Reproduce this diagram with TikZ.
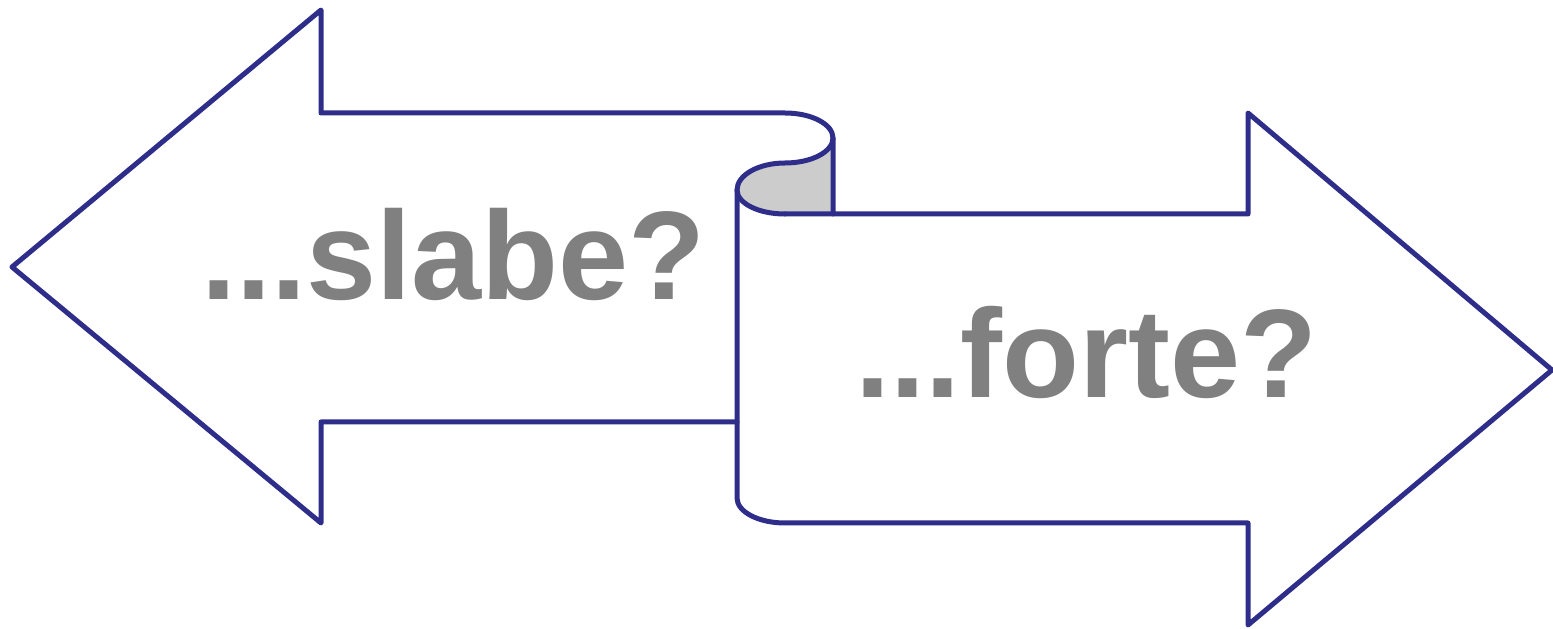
\documentclass[tikz,border=0pt]{standalone}
\usepackage{fontspec}
\setmainfont{Liberation Sans}
\definecolor{edge}{HTML}{2E2E8A}
\definecolor{curl}{HTML}{CCCCCC}
\definecolor{txt}{HTML}{808080}
\begin{document}
\begin{tikzpicture}[x=0.02cm,y=0.02cm,
  outline/.style={draw=edge,line width=0.1cm,line join=round,line cap=round},
  label/.style={text=txt,font=\bfseries\fontsize{71.7}{80}\selectfont,inner sep=0pt,anchor=base west}]
\useasboundingbox (0,0) rectangle (1553,629);
% gray curl
\fill[curl] (833,491) arc[start angle=0,end angle=-90,x radius=48,y radius=25]
  arc[start angle=90,end angle=180,x radius=48,y radius=27]
  arc[start angle=180,end angle=270,x radius=48,y radius=24]
  -- (833,415) -- cycle;
% left arrow
\draw[outline] (737,207) -- (321,207) -- (321,106) -- (12,362) -- (321,619) -- (321,516) -- (785,516)
  arc[start angle=90,end angle=0,x radius=48,y radius=25] -- (833,415);
% curl edge
\draw[outline] (833,491) arc[start angle=0,end angle=-90,x radius=48,y radius=25]
  arc[start angle=90,end angle=180,x radius=48,y radius=27]
  arc[start angle=180,end angle=270,x radius=48,y radius=24];
% right arrow
\draw[outline] (785,415) -- (1248,415) -- (1248,516) -- (1552,259) -- (1248,4) -- (1248,106) -- (785,106)
  arc[start angle=270,end angle=180,x radius=48,y radius=25] -- (737,439);
\node[label] (slabe) at (201,329) {...slabe?};
\node[label] (forte) at (855,231) {...forte?};
\end{tikzpicture}
\end{document}
